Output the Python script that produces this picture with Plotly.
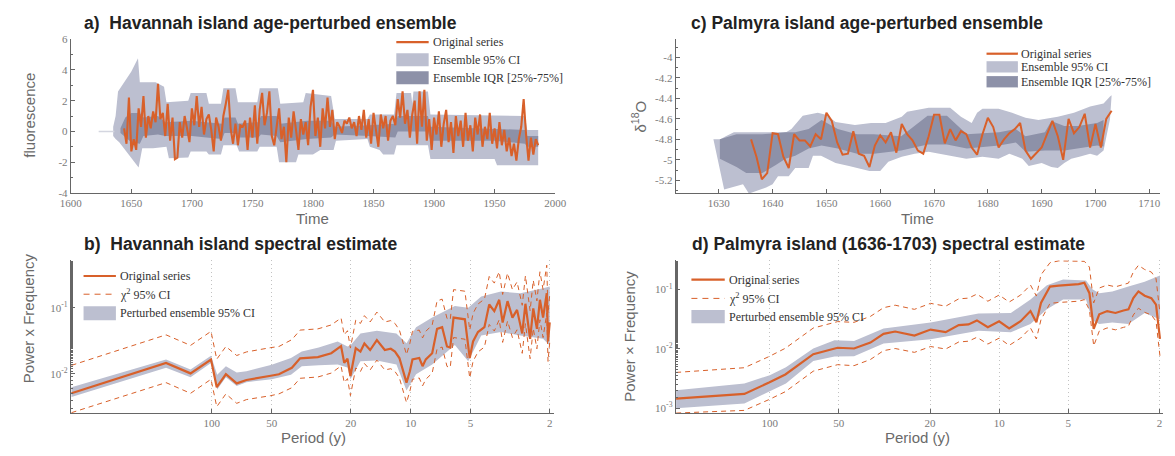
import math
import plotly.graph_objects as go

W, H = 1175, 456

ORANGE = "#d8602a"
CI_FILL = "#bcbfd0"
IQR_FILL = "#8d91a8"
PAD_LINE = "#d4d6e0"
AXIS = "#666666"
TICK_TXT = "#7a7a7a"
LABEL_TXT = "#6a6a6a"
TITLE_TXT = "#222222"
LEG_TXT = "#333333"
SERIF = "Liberation Serif, Times New Roman, serif"
SANS = "Liberation Sans, Arial, Helvetica, sans-serif"

# ---------------------------------------------------------------- data
# (a) Havannah island fluorescence, original series (2-yr steps from 1644)
hav_start = 1644
hav_fluor = [
    0.2, -0.8, 2.2, -1.3, -0.5,
    -1.2, 1.5, 0.3, 2.3, -0.4,
    1.0, 0.2, 1.3, 0.6, 3.1,
    0.8, 1.2, -0.3, 1.8, -0.6,
    0.9, -1.8, -1.7, 0.6, -0.4,
    1.0, 0.2, -0.7, 1.5, 0.4,
    2.3, 0.3, 1.6, -0.2, 0.8,
    1.1, 0.1, -1.3, 0.9, 0.3,
    -0.6, 1.0, 1.8, 2.7, 0.2,
    -0.8, 0.5, -0.9, 0.4, 0.3,
    0.7, -1.2, 0.9, -0.4, 1.7,
    -0.8, 1.4, 2.5, 0.4, 1.2,
    2.6, -0.3, -0.9, 0.5, 1.5,
    -0.5, 0.3, -2.0, 0.9, -0.4,
    1.3, 0.1, -1.2, 0.8, -0.2,
    0.6, -0.9, 1.6, 2.7, -0.3,
    0.9, -1.0, 1.5, 0.2, 2.2,
    0.3, 1.4, -0.5, 0.6, 0.3,
    -0.1, 0.7, 0.5, 0.9, 0.2,
    0.6, -0.3, 1.0, 0.1, 1.4,
    -0.4, 0.8, -0.8, 1.2, 0.0,
    -1.0, 1.1, 0.2, 1.0, -0.6,
    0.7, 1.0, 0.4, 2.1, 0.9,
    2.6, 0.5, 1.4, -0.4, 1.1,
    2.0, -0.8, 2.6, 0.3, 2.7,
    -0.6, 0.8, -1.2, 0.9, -0.2,
    1.3, -1.0, 0.5, 1.4, -0.7,
    0.6, -1.4, 1.0, -0.3, 0.7,
    -1.0, 1.2, -0.6, 0.4, -1.3,
    0.9, -0.2, 1.1, -1.0, 0.3,
    -0.5, 1.2, -0.8, 0.2, -1.1,
    0.6, -0.9, 0.1, -1.3, -0.4,
    -1.6, -0.8, -1.9, -0.5, 0.3,
    2.1, -0.2, -1.9, -0.4, -1.5,
    -0.5, -0.9,
]
hav_years = [hav_start + 2 * i for i in range(len(hav_fluor))]

# ensemble envelopes (edges as year / value pairs)
hav_ci_hi_year = [1635, 1637, 1639, 1645, 1650, 1655.5, 1657, 1670, 1677, 1679,
                  1697, 1699, 1712, 1714, 1724, 1726, 1736, 1738, 1754, 1756,
                  1771, 1773, 1792, 1794, 1815, 1818, 1845, 1847, 1867, 1869,
                  1881, 1882, 1883, 1895, 1897, 1975, 1977, 1986]
hav_ci_hi = [0.3, 1.0, 2.6, 3.3, 3.9, 4.75, 3.2, 3.2, 2.9, 1.9,
             2.0, 2.5, 2.5, 1.8, 1.8, 2.8, 2.8, 1.9, 1.9, 2.8,
             2.8, 1.8, 1.9, 2.5, 2.3, 0.8, 0.8, 1.1, 1.1, 2.5,
             2.5, 1.8, 2.6, 2.6, 1.1, 1.0, 0.1, 0.1]
hav_ci_lo_year = [1635, 1637, 1640, 1648, 1656, 1659, 1668, 1679, 1681, 1697,
                  1699, 1712, 1714, 1724, 1726, 1737, 1739, 1754, 1756, 1770,
                  1772, 1786, 1788, 1800, 1806, 1817, 1819, 1845, 1847, 1855,
                  1858, 1867, 1869, 1895, 1897, 1950, 1952, 1986]
hav_ci_lo = [-0.3, -0.5, -0.7, -1.5, -2.35, -1.1, -1.1, -1.0, -1.75, -1.7,
             -1.3, -1.3, -1.5, -1.5, -0.9, -0.9, -1.3, -1.3, -1.0, -1.0,
             -2.0, -2.0, -1.5, -1.5, -1.2, -1.2, -0.6, -0.5, -1.0, -1.2,
             -1.5, -1.5, -0.9, -0.9, -1.8, -1.8, -2.2, -2.2]
hav_iqr_hi_year = [1641, 1645, 1650, 1657, 1660, 1672, 1678, 1700, 1712, 1725,
                   1727, 1736, 1738, 1755, 1757, 1770, 1773, 1795, 1815, 1818,
                   1846, 1868, 1870, 1895, 1897, 1975, 1977, 1986]
hav_iqr_hi = [0.2, 0.9, 1.2, 1.2, 0.9, 1.0, 0.6, 0.7, 0.6, 0.5,
              0.9, 0.9, 0.5, 0.6, 1.0, 1.0, 0.5, 0.7, 0.7, 0.3,
              0.4, 0.5, 1.0, 1.0, 0.3, 0.1, -0.3, -0.3]
hav_iqr_lo_year = [1641, 1645, 1650, 1657, 1660, 1672, 1678, 1700, 1712, 1725,
                   1727, 1736, 1738, 1755, 1757, 1770, 1773, 1795, 1815, 1818,
                   1846, 1868, 1870, 1895, 1897, 1950, 1975, 1977, 1986]
hav_iqr_lo = [-0.1, -0.4, -0.7, -0.8, -0.3, -0.2, -0.3, -0.3, -0.4, -0.5,
              -0.1, -0.1, -0.4, -0.4, -0.2, -0.3, -0.7, -0.5, -0.4, -0.2,
              -0.3, -0.4, 0.0, 0.0, -0.6, -0.6, -0.8, -1.0, -1.0]
hav_pad_year = [1623, 1636]
hav_pad = [0.0, 0.0]

# (c) Palmyra island d18O, annual 1636-1703
pal_start = 1636
pal_d18o = [
    -4.80, -4.97, -5.19, -5.13, -4.74, -4.75, -4.97, -5.08, -4.75, -4.81,
    -4.81, -4.87, -4.75, -4.80, -4.54, -4.62, -4.83, -4.95, -4.94, -4.72,
    -4.94, -4.96, -5.07, -4.86, -4.76, -4.83, -4.73, -4.93, -4.65, -4.75,
    -4.81, -4.91, -4.94, -4.77, -4.56, -4.56, -4.84, -4.70, -4.81, -4.72,
    -4.75, -4.88, -4.95, -4.75, -4.59, -4.68, -4.88, -4.80, -4.74, -4.70,
    -4.64, -4.91, -4.99, -4.93, -4.88, -4.75, -4.62, -4.77, -5.00, -4.60,
    -4.74, -4.68, -4.55, -4.88, -4.65, -4.88, -4.60, -4.52,
]
pal_years = [pal_start + i for i in range(len(pal_d18o))]

pal_ci_hi_year = [1629, 1630.3, 1631.3, 1632.8, 1639.4, 1642.5, 1643.5, 1645.6, 1648.4, 1649.9,
                  1651.7, 1655.3, 1658.3, 1661, 1664, 1665, 1669, 1673, 1675, 1677,
                  1678, 1679, 1682, 1684.5, 1687, 1689.4, 1693, 1696, 1699, 1701.5,
                  1702.7, 1703]
pal_ci_hi = [-4.80, -4.80, -4.77, -4.73, -4.73, -4.73, -4.70, -4.57, -4.54, -4.56,
             -4.63, -4.66, -4.64, -4.64, -4.58, -4.53, -4.49, -4.49, -4.58, -4.64,
             -4.54, -4.50, -4.50, -4.54, -4.59, -4.61, -4.58, -4.54, -4.48, -4.45,
             -4.38, -4.37]
pal_ci_lo_year = [1629, 1631, 1633, 1634.5, 1635.6, 1637, 1638.8, 1640, 1641, 1643,
                  1644.2, 1646.7, 1647.5, 1649, 1650, 1651.7, 1654.2, 1656.6, 1658, 1660,
                  1661.5, 1664, 1666.4, 1669, 1671, 1674, 1676, 1679, 1682, 1684,
                  1686.4, 1687.6, 1690, 1691.8, 1693, 1694.2, 1695.5, 1697, 1699, 1700.3,
                  1701.5, 1702.7, 1703]
pal_ci_lo = [-4.80, -5.29, -5.26, -5.24, -5.33, -5.30, -5.27, -5.24, -5.16, -5.16,
             -5.08, -5.08, -4.96, -4.96, -4.99, -5.03, -5.06, -5.09, -5.11, -5.11,
             -5.02, -4.97, -4.94, -4.92, -4.94, -4.97, -4.99, -4.97, -4.99, -4.94,
             -4.99, -5.06, -5.03, -5.07, -5.08, -5.03, -4.99, -4.97, -4.94, -4.96,
             -4.91, -4.60, -4.37]
pal_iqr_year = [1630.2, 1633.3, 1635.1, 1638.1, 1640.6, 1642.4, 1644.2, 1646.7, 1649.1, 1652.1,
                1655.7, 1658.8, 1663.9, 1668.8, 1672.4, 1676.1, 1682.1, 1685.2, 1687, 1690.6,
                1691.8, 1694.2, 1696.7, 1700.3, 1701.5]
pal_iqr_hi = [-4.80, -4.75, -4.75, -4.75, -4.74, -4.73, -4.73, -4.70, -4.61, -4.70,
              -4.75, -4.75, -4.77, -4.57, -4.57, -4.75, -4.73, -4.70, -4.77, -4.73,
              -4.62, -4.67, -4.67, -4.64, -4.61]
pal_iqr_lo = [-4.99, -5.07, -5.13, -5.13, -5.05, -4.99, -4.96, -4.89, -4.86, -4.89,
              -4.94, -4.94, -4.91, -4.85, -4.85, -4.89, -4.86, -4.83, -4.92, -4.91,
              -4.91, -4.91, -4.89, -4.86, -4.87]

# (b) Havannah spectral estimate (power x frequency vs period)
hav_period = [508, 170, 128, 101, 94.5, 85, 75, 67, 50.6, 46,
              39.6, 36, 29.3, 25.1, 22.4, 21.6, 20.8, 20.1, 18.9, 17.9,
              17.1, 16, 14.8, 13.5, 12.6, 12.0, 11.4, 10.5, 10.1, 9.8,
              9.06, 8.72, 8.4, 7.8, 7.37, 6.95, 6.57, 6.33, 6.09, 5.34,
              5.05, 4.86, 4.59, 4.26, 4.03, 3.8, 3.59, 3.45, 3.26, 3.08,
              2.92, 2.75, 2.65, 2.51, 2.42, 2.32, 2.24, 2.16, 2.07, 2.04,
              2.0]
hav_spec = [0.0051, 0.0147, 0.0102, 0.0165, 0.0063, 0.0099, 0.0072, 0.0081, 0.0094, 0.0099,
            0.0124, 0.0172, 0.018, 0.0206, 0.0264, 0.0147, 0.017, 0.0093, 0.0245, 0.0218,
            0.0288, 0.023, 0.0324, 0.023, 0.024, 0.0218, 0.0174, 0.0074, 0.011, 0.0166,
            0.0174, 0.0131, 0.0166, 0.0206, 0.048, 0.051, 0.026, 0.025, 0.071, 0.067,
            0.0174, 0.031, 0.043, 0.051, 0.112, 0.089, 0.132, 0.060, 0.126, 0.071,
            0.093, 0.041, 0.115, 0.034, 0.098, 0.048, 0.132, 0.071, 0.166, 0.031,
            0.06]
hav_chi_hi = [0.0135, 0.039, 0.027, 0.044, 0.0167, 0.026, 0.019, 0.0215, 0.025, 0.026,
              0.033, 0.046, 0.048, 0.055, 0.07, 0.039, 0.045, 0.0246, 0.065, 0.058,
              0.076, 0.061, 0.086, 0.061, 0.064, 0.058, 0.046, 0.0196, 0.029, 0.044,
              0.046, 0.035, 0.044, 0.055, 0.127, 0.135, 0.069, 0.066, 0.188, 0.178,
              0.046, 0.082, 0.114, 0.135, 0.297, 0.236, 0.35, 0.159, 0.334, 0.188,
              0.246, 0.109, 0.305, 0.09, 0.26, 0.127, 0.35, 0.188, 0.44, 0.082,
              0.159]
hav_chi_lo = [0.0026, 0.0074, 0.0051, 0.0083, 0.0032, 0.005, 0.0036, 0.0041, 0.0047, 0.005,
              0.0062, 0.0086, 0.009, 0.0103, 0.0132, 0.0074, 0.0085, 0.0047, 0.0123, 0.0109,
              0.0144, 0.0115, 0.0162, 0.0115, 0.012, 0.0109, 0.0087, 0.0037, 0.0055, 0.0083,
              0.0087, 0.0066, 0.0083, 0.0103, 0.024, 0.0255, 0.013, 0.0125, 0.0355, 0.0335,
              0.0087, 0.0155, 0.0215, 0.0255, 0.056, 0.0445, 0.066, 0.03, 0.063, 0.0355,
              0.0465, 0.0205, 0.0575, 0.017, 0.049, 0.024, 0.066, 0.0355, 0.083, 0.0155,
              0.03]
hav_band_period = [508, 170, 128, 101, 94, 85, 75, 67, 50, 40,
                   35.3, 29, 23.3, 20.8, 20.1, 17.9, 14.8, 11.8, 10.5, 9.4,
                   7.8, 6.0, 5.14, 4.42, 3.52, 2.81, 2.16, 2.0]
hav_band_hi = [0.0063, 0.0166, 0.0117, 0.0188, 0.0097, 0.0131, 0.0105, 0.011, 0.0138, 0.0174,
               0.0218, 0.025, 0.031, 0.026, 0.027, 0.041, 0.045, 0.041, 0.029, 0.051,
               0.071, 0.106, 0.1, 0.148, 0.176, 0.166, 0.197, 0.21]
hav_band_lo = [0.0045, 0.0124, 0.0089, 0.0147, 0.0058, 0.0089, 0.0066, 0.0075, 0.0083, 0.0097,
               0.0131, 0.0135, 0.0139, 0.0125, 0.0083, 0.0155, 0.016, 0.0139, 0.0056, 0.0099,
               0.0139, 0.0273, 0.0155, 0.038, 0.043, 0.038, 0.034, 0.027]

# (d) Palmyra spectral estimate
pal_period = [256, 129, 100.7, 85.5, 64.6, 50.6, 42.9, 36.4, 31.9, 28.4,
              23.4, 19.9, 17.1, 15.0, 13.6, 12.5, 11.2, 10.0, 9.04, 8.06,
              7.3, 6.88, 6.57, 6.0, 5.5, 4.92, 4.5, 4.25, 4.04, 3.87,
              3.66, 3.38, 3.11, 2.87, 2.73, 2.6, 2.47, 2.32, 2.17, 2.07,
              1.99]
pal_spec = [0.00145, 0.00174, 0.0027, 0.0037, 0.0081, 0.0104, 0.0101, 0.0127, 0.0178, 0.0195,
            0.0167, 0.021, 0.019, 0.025, 0.0257, 0.030, 0.023, 0.029, 0.022, 0.029,
            0.043, 0.028, 0.059, 0.111, 0.115, 0.118, 0.122, 0.129, 0.086, 0.0215,
            0.038, 0.043, 0.040, 0.044, 0.046, 0.071, 0.092, 0.078, 0.071, 0.055,
            0.0147]
pal_chi_hi = [0.0040, 0.0048, 0.0074, 0.0102, 0.0223, 0.0286, 0.0278, 0.035, 0.049, 0.054,
              0.046, 0.058, 0.052, 0.069, 0.071, 0.083, 0.063, 0.080, 0.061, 0.080,
              0.118, 0.077, 0.175, 0.28, 0.30, 0.30, 0.30, 0.295, 0.236, 0.059,
              0.105, 0.118, 0.11, 0.121, 0.127, 0.195, 0.253, 0.215, 0.195, 0.151,
              0.040]
pal_chi_lo = [0.00083, 0.00092, 0.0014, 0.0019, 0.0042, 0.0054, 0.0052, 0.0066, 0.0093, 0.0101,
              0.0087, 0.0109, 0.0099, 0.013, 0.0134, 0.0156, 0.012, 0.0151, 0.0114, 0.0151,
              0.0224, 0.0146, 0.0307, 0.058, 0.060, 0.061, 0.063, 0.067, 0.045, 0.0112,
              0.0198, 0.0224, 0.0208, 0.0229, 0.024, 0.037, 0.048, 0.041, 0.037, 0.029,
              0.0076]
pal_band_period = [256, 129, 100, 85, 64.6, 52.2, 42.9, 31.9, 19.9, 12.3,
                   8.89, 7.3, 6.19, 5.26, 4.18, 3.92, 3.66, 3.21, 2.73, 2.32,
                   1.99]
pal_band_hi = [0.0020, 0.0026, 0.0036, 0.0049, 0.0101, 0.0139, 0.0135, 0.022, 0.0277, 0.039,
               0.040, 0.067, 0.117, 0.146, 0.140, 0.100, 0.086, 0.092, 0.111, 0.134,
               0.170]
pal_band_lo = [0.0010, 0.0012, 0.0019, 0.0026, 0.0062, 0.0074, 0.0075, 0.0122, 0.0145, 0.020,
               0.019, 0.026, 0.046, 0.067, 0.067, 0.030, 0.026, 0.0277, 0.026, 0.040,
               0.031]

# tick labels
year_ticks_a = [1600, 1650, 1700, 1750, 1800, 1850, 1900, 1950, 2000]
fluor_ticks = [-4, -2, 0, 2, 4, 6]
fluor_labels = ["-4", "-2", "0", "2", "4", "6"]
year_ticks_c = [1630, 1640, 1650, 1660, 1670, 1680, 1690, 1700, 1710]
d18o_ticks = [-5.2, -5.0, -4.8, -4.6, -4.4, -4.2, -4.0]
d18o_labels = ["-5.2", "-5", "-4.8", "-4.6", "-4.4", "-4.2", "-4"]
period_ticks = [100, 50, 20, 10, 5, 2]
period_labels = ["100", "50", "20", "10", "5", "2"]
pxf_ticks_b = [0.01, 0.1]
pxf_labels_b = ["10<sup>-2</sup>", "10<sup>-1</sup>"]
pxf_ticks_d = [0.001, 0.01, 0.1]
pxf_labels_d = ["10<sup>-3</sup>", "10<sup>-2</sup>", "10<sup>-1</sup>"]


# ---------------------------------------------------------------- helpers
def fx(px):
    return px / W


def fy(py):
    return 1 - py / H


fig = go.Figure()


def add_band(x_hi, y_hi, x_lo, y_lo, color, xa, ya):
    fig.add_trace(go.Scatter(
        x=list(x_hi) + list(x_lo)[::-1], y=list(y_hi) + list(y_lo)[::-1],
        mode="lines", fill="toself", fillcolor=color, line=dict(width=0),
        xaxis=xa, yaxis=ya, showlegend=False, hoverinfo="skip"))


def add_line(x, y, xa, ya, width=2.0, dash=None, color=ORANGE):
    fig.add_trace(go.Scatter(
        x=x, y=y, mode="lines", line=dict(color=color, width=width, dash=dash),
        xaxis=xa, yaxis=ya, showlegend=False, hoverinfo="skip"))


DASH = "5px,4px"

# (a)
add_band(hav_ci_hi_year, hav_ci_hi, hav_ci_lo_year, hav_ci_lo, CI_FILL, "x", "y")
add_band(hav_iqr_hi_year, hav_iqr_hi, hav_iqr_lo_year, hav_iqr_lo, IQR_FILL, "x", "y")
add_line(hav_pad_year, hav_pad, "x", "y", width=1.5, color=PAD_LINE)
add_line(hav_years, hav_fluor, "x", "y", width=2.1)

# (c)
add_band(pal_ci_hi_year, pal_ci_hi, pal_ci_lo_year, pal_ci_lo, CI_FILL, "x2", "y2")
add_band(pal_iqr_year, pal_iqr_hi, pal_iqr_year, pal_iqr_lo, IQR_FILL, "x2", "y2")
add_line(pal_years, pal_d18o, "x2", "y2", width=2.0)

# (b)
add_band(hav_band_period, hav_band_hi, hav_band_period, hav_band_lo, CI_FILL, "x3", "y3")
add_line(hav_period, hav_chi_hi, "x3", "y3", width=1.0, dash=DASH)
add_line(hav_period, hav_chi_lo, "x3", "y3", width=1.0, dash=DASH)
add_line(hav_period, hav_spec, "x3", "y3", width=2.2)

# (d)
add_band(pal_band_period, pal_band_hi, pal_band_period, pal_band_lo, CI_FILL, "x4", "y4")
add_line(pal_period, pal_chi_hi, "x4", "y4", width=1.0, dash=DASH)
add_line(pal_period, pal_chi_lo, "x4", "y4", width=1.0, dash=DASH)
add_line(pal_period, pal_spec, "x4", "y4", width=2.2)


def axis(**kw):
    base = dict(showline=True, linecolor=AXIS, linewidth=1, ticks="inside",
                ticklen=4, tickcolor=AXIS, tickwidth=1,
                tickfont=dict(family=SERIF, size=11, color=TICK_TXT),
                showgrid=False, zeroline=False, fixedrange=True, tickmode="array")
    base.update(kw)
    return base


def minor_lin(step):
    return dict(ticks="inside", ticklen=2, tickcolor=AXIS, dtick=step, tick0=0, tickmode="linear")


period_grid = dict(showgrid=True, gridcolor="#c2c2c2", griddash="1px,3px", gridwidth=1)

fig.update_layout(
    width=W, height=H, margin=dict(l=0, r=0, t=0, b=0),
    paper_bgcolor="white", plot_bgcolor="white", showlegend=False, hovermode=False,
    xaxis=axis(domain=[fx(61), fx(555)], range=[1600, 2000], anchor="y",
               tickvals=year_ticks_a, ticktext=[str(v) for v in year_ticks_a]),
    yaxis=axis(domain=[fy(192), fy(34)], range=[-4, 6], anchor="x",
               tickvals=fluor_ticks, ticktext=fluor_labels, minor=minor_lin(1)),
    xaxis2=axis(domain=[fx(678), fx(1172)], range=[1622, 1712], anchor="y2",
                tickvals=year_ticks_c, ticktext=[str(v) for v in year_ticks_c]),
    yaxis2=axis(domain=[fy(192), fy(34)], range=[-5.324, -3.82], anchor="x2",
                tickvals=d18o_ticks, ticktext=d18o_labels, minor=minor_lin(0.1)),
    xaxis3=axis(domain=[fx(61), fx(554)], type="log", anchor="y3",
                range=[math.log10(512), math.log10(1.9)],
                tickvals=period_ticks, ticktext=period_labels, **period_grid),
    yaxis3=axis(domain=[fy(418), fy(261)], type="log", anchor="x3",
                range=[-2.59, -0.28], tickvals=pxf_ticks_b, ticktext=pxf_labels_b,
                minor=dict(ticks="inside", ticklen=2, tickcolor=AXIS)),
    xaxis4=axis(domain=[fx(678), fx(1175)], type="log", anchor="y4",
                range=[math.log10(257), math.log10(1.93)],
                tickvals=period_ticks, ticktext=period_labels, **period_grid),
    yaxis4=axis(domain=[fy(418), fy(261)], type="log", anchor="x4",
                range=[-3.08, -0.51], tickvals=pxf_ticks_d, ticktext=pxf_labels_d,
                minor=dict(ticks="inside", ticklen=2, tickcolor=AXIS)),
)

annotations = []


def text(px, py, s, size, color, family, angle=0, anchor="left", bold=False):
    annotations.append(dict(
        x=fx(px), y=fy(py), xref="paper", yref="paper", text=f"<b>{s}</b>" if bold else s,
        showarrow=False, xanchor=anchor, yanchor="middle", textangle=angle,
        font=dict(size=size, color=color, family=family)))


# panel titles
TITLE_SIZE = 17.5
text(72, 17, "a)\u00a0 Havannah island age-perturbed ensemble", TITLE_SIZE, TITLE_TXT, SANS, bold=True)
text(692, 17, "c) Palmyra island age-perturbed ensemble", TITLE_SIZE, TITLE_TXT, SANS, bold=True)
text(72, 244, "b)\u00a0 Havannah island spectral estimate", TITLE_SIZE, TITLE_TXT, SANS, bold=True)
text(693, 244, "d) Palmyra island (1636-1703) spectral estimate", TITLE_SIZE, TITLE_TXT, SANS, bold=True)

# axis titles
text(18, 112, "fluorescence", 15, LABEL_TXT, SANS, angle=-90, anchor="center")
text(308, 218, "Time", 15, LABEL_TXT, SANS, anchor="center")
text(640, 113, "\u03b4<sup>18</sup>O", 15, LABEL_TXT, SANS, angle=-90, anchor="center")
text(925, 218, "Time", 15, LABEL_TXT, SANS, anchor="center")
text(18, 321, "Power x Frequency", 15, LABEL_TXT, SANS, angle=-90, anchor="center")
text(309, 443, "Period (y)", 15, LABEL_TXT, SANS, anchor="center")
text(630, 339, "Power \u00d7 Frequency", 15, LABEL_TXT, SANS, angle=-90, anchor="center")
text(925, 443, "Period (y)", 15, LABEL_TXT, SANS, anchor="center")

# legends drawn as key swatches plus labels
shapes = []


def legend(x0, x1, xt, rows, sw_h):
    for kind, yc, label in rows:
        if kind in ("line", "dash"):
            shapes.append(dict(type="line", xref="paper", yref="paper",
                               x0=fx(x0), x1=fx(x1), y0=fy(yc), y1=fy(yc),
                               line=dict(color=ORANGE, width=2.2 if kind == "line" else 1.0,
                                         dash=None if kind == "line" else "6px,5px")))
        else:
            shapes.append(dict(type="rect", xref="paper", yref="paper",
                               x0=fx(x0), x1=fx(x1), y0=fy(yc + sw_h / 2), y1=fy(yc - sw_h / 2),
                               line=dict(width=0), fillcolor=CI_FILL if kind == "ci" else IQR_FILL))
        text(xt, yc, label, 12, LEG_TXT, SERIF)


legend(393, 426, 428, [("line", 37, "Original series"),
                       ("ci", 55.2, "Ensemble 95% CI"),
                       ("iqr", 73.7, "Ensemble IQR [25%-75%]")], 13.4)
legend(995, 1027, 1028, [("line", 49, "Original series"),
                         ("ci", 62.5, "Ensemble 95% CI"),
                         ("iqr", 77.8, "Ensemble IQR [25%-75%]")], 11.6)
legend(74, 107, 109, [("line", 277.3, "Original series"),
                      ("dash", 296, "\u03c7<sup>2</sup> 95% CI"),
                      ("ci", 315.5, "Perturbed ensemble 95% CI")], 14.4)
legend(694, 728, 730, [("line", 281, "Original series"),
                       ("dash", 300.3, "\u03c7<sup>2</sup> 95% CI"),
                       ("ci", 319, "Perturbed ensemble 95% CI")], 13.4)

fig.update_layout(annotations=annotations, shapes=shapes)
fig.write_html("out.html")
